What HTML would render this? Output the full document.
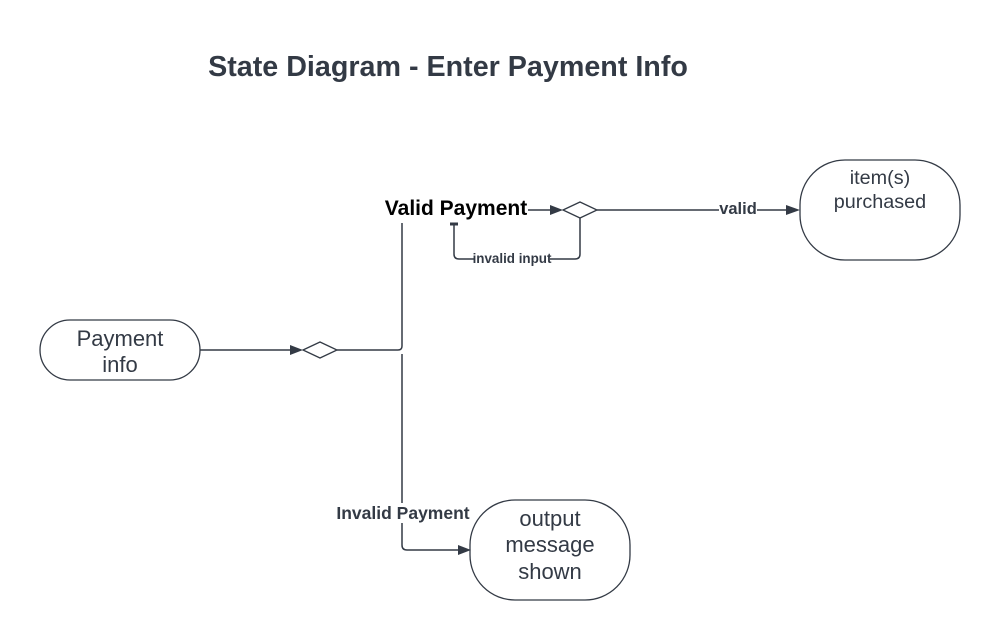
<!DOCTYPE html>
<html><head><style>body{margin:0;background:#fff}svg{display:block}</style></head><body>
<svg width="1000" height="640" xmlns="http://www.w3.org/2000/svg" font-family="Liberation Sans, sans-serif">
<rect width="1000" height="640" fill="#fff"/>
<text x="448" y="76" text-anchor="middle" font-size="28.7" font-weight="bold" fill="#333a45">State Diagram - Enter Payment Info</text>
<g stroke="#333a45" fill="#fff" stroke-width="1.3">
<rect x="40" y="320" width="160" height="60" rx="30"/>
<rect x="800" y="160" width="160" height="100" rx="45"/>
<rect x="470" y="500" width="160" height="100" rx="45"/>
<path d="M303 350 L320 342 L337 350 L320 358 Z"/>
<path d="M563 210 L580 202 L597 210 L580 218 Z"/>
</g>
<g stroke="#333a45" fill="none" stroke-width="1.5">
<path d="M200 350 H292"/>
<path d="M337 350 H398 Q402 350 402 346 V223"/>
<path d="M402 354 V545 Q402 550 407 550 H458"/>
<path d="M528 210 H552"/>
<path d="M597 210 H788"/>
<path d="M580 218 V254 Q580 259 575 259 H459 Q454 259 454 254 V224"/>
<path d="M450 224 H458" stroke-width="3"/>
</g>
<g fill="#333a45">
<path d="M303 350 L290 345 L290 355 Z"/>
<path d="M471 550 L458 545 L458 555 Z"/>
<path d="M563 210 L550 205 L550 215 Z"/>
<path d="M800 210 L786 205 L786 215 Z"/>
</g>
<rect x="719" y="201" width="38" height="16" fill="#fff"/>
<text x="738" y="214" text-anchor="middle" font-size="16.5" font-weight="bold" fill="#333a45">valid</text>
<rect x="474" y="251" width="76" height="15" fill="#fff"/>
<text x="512" y="263" text-anchor="middle" font-size="13.4" font-weight="bold" fill="#333a45">invalid input</text>
<text x="456" y="215" text-anchor="middle" font-size="21" font-weight="bold" fill="#000">Valid Payment</text>
<rect x="335" y="503" width="136" height="20" fill="#fff"/>
<text x="403" y="519" text-anchor="middle" font-size="17.5" font-weight="bold" fill="#333a45">Invalid Payment</text>
<g font-size="22" fill="#333a45" text-anchor="middle">
<text x="120" y="346">Payment</text><text x="120" y="372">info</text>
<text x="880" y="184" font-size="19.8">item(s)</text><text x="880" y="208" font-size="19.8">purchased</text>
<text x="550" y="526">output</text><text x="550" y="552">message</text><text x="550" y="579">shown</text>
</g>
</svg>
</body></html>
